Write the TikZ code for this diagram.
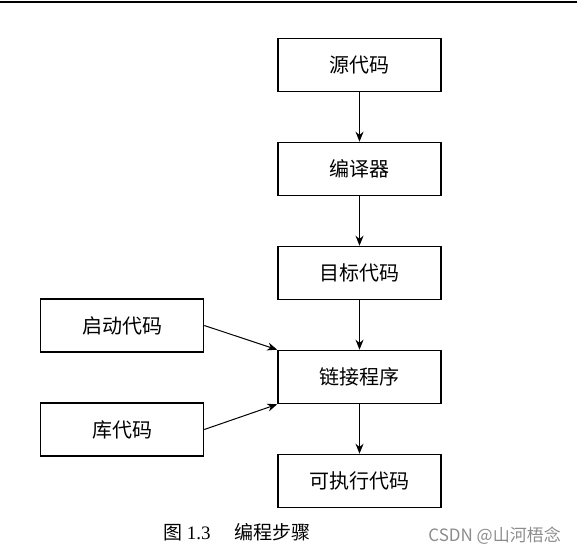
\documentclass[tikz,border=0pt]{standalone}
\usepackage{fontspec}
\setmainfont{Liberation Serif}
\newfontfamily\cjk{Noto Sans CJK SC}
\usepackage{xcolor}
\usetikzlibrary{positioning,arrows.meta}

\begin{document}
\begin{tikzpicture}[x=1pt, y=-1pt]
\tikzstyle{box}=[draw, line width = 1.6pt, minimum width = 163pt, minimum height = 53pt, inner sep = 2 pt, font = \cjk\fontsize{20}{24}\selectfont, node distance=104pt]
\tikzstyle{arr}=[line width = 1pt, -{Stealth[length=10pt, width=8pt]}]

\useasboundingbox (0,0) rectangle (577,556);
\draw[line width = 2.5pt] (0,2) -- (577,2);

\node[box] (src) at (359.5,65) {源代码};
\node[box, below of = src] (comp) {编译器};
\node[box, below of = comp] (obj) {目标代码};
\node[box, below of = obj] (link) {链接程序};
\node[box, below of = link] (exe) {可执行代码};
\node[box] (boot) at (122,325.5) {启动代码};
\node[box, below of = boot] (lib) {库代码};

\draw[arr] (src) -- (comp);
\draw[arr] (comp) -- (obj);
\draw[arr] (obj) -- (link);
\draw[arr] (link) -- (exe);
\draw[arr] (boot.east) -- (link.north west);
\draw[arr] (lib.east) -- (link.south west);

\node[anchor = west, inner sep = 0pt, font = \fontsize{19}{22}\selectfont] (cap) at (163,532) {{\cjk 图} 1.3\hspace{24pt}{\cjk 编程步骤}};
\node[anchor = east, inner sep = 0pt, text = black!45, font = \cjk\fontsize{17}{20}\selectfont] (mark) at (561,536) {CSDN @山河梧念};
\end{tikzpicture}
\end{document}
